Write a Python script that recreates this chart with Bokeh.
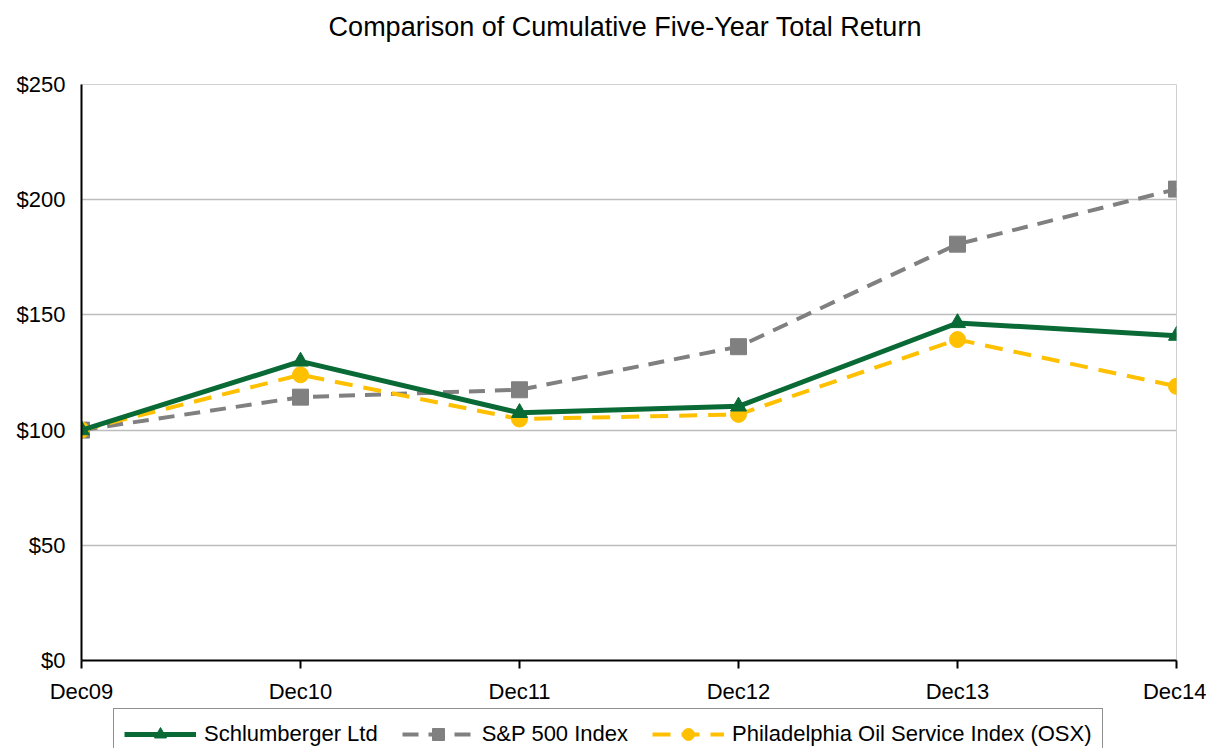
from bokeh.plotting import figure
from bokeh.layouts import column
from bokeh.models import FixedTicker, Legend, LegendItem, NumeralTickFormatter, Title
from bokeh.embed import file_html
from bokeh.resources import INLINE

periods = ["Dec09", "Dec10", "Dec11", "Dec12", "Dec13", "Dec14"]
slb = [100, 129.8, 107.5, 110.3, 146.5, 141.0]
sp500 = [100, 114.3, 117.5, 136.2, 180.7, 204.6]
osx = [100, 124.0, 104.8, 106.8, 139.3, 119.0]
y_ticks = [0, 50, 100, 150, 200, 250]
series_names = ["Schlumberger Ltd", "S&P 500 Index", "Philadelphia Oil Service Index (OSX)"]
title_text = "Comparison of Cumulative  Five-Year Total Return"

xs = list(range(len(periods)))

FONT = "Liberation Sans"
W = 1206

p = figure(width=W, height=706, output_backend="svg", toolbar_location=None,
           x_range=(0, len(periods) - 1), y_range=(0, 250),
           min_border_left=81, min_border_right=W - 1176, min_border_top=83, min_border_bottom=45)
p.title.visible = False

# spacer nearest the frame, then the real title above it
p.add_layout(Title(text=" ", text_font_size="2px", standoff=26), "above")
p.add_layout(Title(text=title_text, align="center", vertical_align="top",
                   text_font=FONT, text_font_size="27px", text_font_style="normal",
                   text_color="black", standoff=22), "above")

p.outline_line_color = "#d0d0d0"
p.background_fill_color = "white"
p.xgrid.grid_line_color = None
p.ygrid.grid_line_color = "#bdbdbd"
p.ygrid.grid_line_width = 1.5
p.ygrid.ticker = FixedTicker(ticks=y_ticks)

p.yaxis.ticker = FixedTicker(ticks=y_ticks)
p.yaxis.formatter = NumeralTickFormatter(format="$0")
p.yaxis.major_tick_line_color = None
p.yaxis.minor_tick_line_color = None
p.yaxis.axis_line_color = "black"
p.yaxis.axis_line_width = 2
p.yaxis.major_label_standoff = 10
p.yaxis.major_label_text_font = FONT
p.yaxis.major_label_text_font_size = "22px"
p.yaxis.major_label_text_color = "black"

p.xaxis.ticker = FixedTicker(ticks=xs)
p.xaxis.major_label_overrides = {i: s for i, s in enumerate(periods)}
p.xaxis.minor_tick_line_color = None
p.xaxis.major_tick_in = 0
p.xaxis.major_tick_out = 8
p.xaxis.major_tick_line_color = "black"
p.xaxis.major_tick_line_width = 2
p.xaxis.axis_line_color = "black"
p.xaxis.axis_line_width = 2
p.xaxis.major_label_standoff = 10
p.xaxis.major_label_text_font = FONT
p.xaxis.major_label_text_font_size = "22px"
p.xaxis.major_label_text_color = "black"

GREEN = "#0a6a36"
GRAY = "#808080"
YELLOW = "#ffc000"

styles = [
    dict(color=GREEN, dash="solid", marker="triangle", width=5),
    dict(color=GRAY, dash="16 10", marker="square", width=4),
    dict(color=YELLOW, dash="18 11", marker="circle", width=4),
]
data = [slb, sp500, osx]

# draw gray and yellow first, green on top
for idx in (1, 2, 0):
    s = styles[idx]
    p.line(xs, data[idx], line_color=s["color"], line_width=s["width"], line_dash=s["dash"])
    p.scatter(xs, data[idx], marker=s["marker"], size=16, fill_color=s["color"], line_color=s["color"])

# legend strip below the chart (its renderers lie outside its view, only the legend shows)
lg = figure(width=W, height=42, output_backend="svg", toolbar_location=None,
            x_range=(50, 51), y_range=(0, 1), x_axis_location=None, y_axis_location=None,
            min_border=0)
lg.grid.visible = False
lg.outline_line_color = None

items = []
for name, s, d in zip(series_names, styles, data):
    r1 = lg.line(xs, d, line_color=s["color"], line_width=s["width"], line_dash=s["dash"])
    r2 = lg.scatter(xs, d, marker=s["marker"], size=16, fill_color=s["color"], line_color=s["color"])
    items.append(LegendItem(label=name, renderers=[r1, r2]))

legend = Legend(items=items, orientation="horizontal", location=(32, -12))
legend.label_text_font = FONT
legend.label_text_font_size = "22px"
legend.label_text_color = "black"
legend.glyph_width = 72
legend.glyph_height = 30
legend.label_height = 30
legend.spacing = 24
legend.padding = 10
legend.margin = 0
legend.border_line_color = "#222222"
legend.border_line_width = 1.5
legend.label_standoff = 8
lg.add_layout(legend, "center")

layout = column(p, lg, spacing=0)

open("out.html", "w").write(file_html(layout, INLINE))
